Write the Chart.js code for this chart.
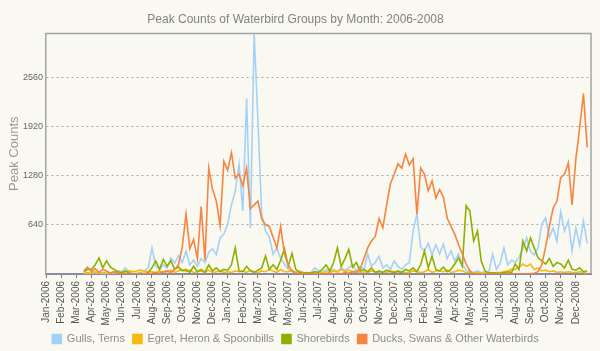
<!DOCTYPE html>
<html>
<head>
<meta charset="utf-8">
<script src="https://cdn.jsdelivr.net/npm/chart.js@4.4.1/dist/chart.umd.min.js"></script>
<style>
  html, body { margin: 0; padding: 0; background: #f9f8f1; }
  #wrap { width: 600px; height: 351px; }
</style>
</head>
<body>
<div id="wrap"><canvas id="chart" width="600" height="351"></canvas></div>
<script>
// month tick labels
const months = [
  'Jan-2006','Feb-2006','Mar-2006','Apr-2006','May-2006','Jun-2006','Jul-2006','Aug-2006','Sep-2006','Oct-2006','Nov-2006','Dec-2006',
  'Jan-2007','Feb-2007','Mar-2007','Apr-2007','May-2007','Jun-2007','Jul-2007','Aug-2007','Sep-2007','Oct-2007','Nov-2007','Dec-2007',
  'Jan-2008','Feb-2008','Mar-2008','Apr-2008','May-2008','Jun-2008','Jul-2008','Aug-2008','Sep-2008','Oct-2008','Nov-2008','Dec-2008'
];
const yTicks = [640, 1280, 1920, 2560];

// four readings per month (one group per month)
const gulls = [
  null,null,null,null, null,null,null,null, null,null,20,10, 10,20,5,10,
  5,20,10,40, 30,80,20,10, 10,20,40,80, 340,100,60,120,
  80,210,140,240, 150,300,120,180, 100,200,150,280, 330,250,470,520,
  650,900,1080,1430, 820,2285,600,3130, 2000,780,560,480, 260,340,200,130,
  60,30,20,40, 20,10,20,80, 40,20,60,30, 60,30,80,50,
  80,120,40,100, 60,260,100,150, 230,80,120,60, 170,100,60,120,
  150,560,780,350, 300,400,250,380, 260,390,200,300, 170,260,120,50,
  30,20,40,20, 30,20,260,60, 140,340,120,180, 150,220,330,470,
  300,250,340,650, 730,480,600,430, 810,560,690,300, 600,370,690,400
];
const egrets = [
  null,null,null,null, null,null,null,null, null,null,10,20, 10,30,10,20,
  20,10,30,10, 20,30,40,30, 40,50,40,30, 30,20,40,20,
  30,50,20,40, 60,30,50,20, 30,40,20,50, 20,30,40,20,
  30,20,40,30, 40,20,50,30, 20,40,30,60, 40,20,60,30,
  30,50,20,30, 20,10,20,10, 10,20,30,20, 40,30,60,30,
  50,30,40,20, 30,20,40,30, 20,30,20,40, 30,20,30,20,
  20,40,30,20, 30,60,20,40, 40,30,50,20, 30,50,40,20,
  20,10,20,10, 10,20,10,20, 20,30,40,60, 60,90,130,100,
  130,60,80,40, 50,30,40,20, 30,20,30,20, 20,30,20,10
];
const shorebirds = [
  null,null,null,null, null,null,null,null, null,null,30,60, 60,120,210,80,
  170,90,60,30, 20,40,10,0, 0,10,0,20, 80,170,60,190,
  100,170,60,90, 40,60,20,100, 30,60,20,120, 40,80,30,60,
  50,120,340,40, 30,100,40,20, 50,80,235,60, 120,60,180,330,
  100,270,60,20, 10,20,10,30, 20,60,120,40, 150,340,100,200,
  320,90,150,40, 60,30,80,20, 40,20,50,30, 20,40,20,60,
  40,80,30,120, 300,80,230,60, 40,90,30,60, 130,210,100,890,
  820,430,560,170, 40,10,20,10, 10,20,30,20, 130,60,430,300,
  470,340,210,170, 130,200,100,150, 130,80,180,60, 50,80,30,40
];
const ducks = [
  null,null,null,null, null,null,null,null, null,null,40,90, 30,70,20,60,
  40,10,30,10, 0,10,0,0, 0,0,10,0, 10,20,10,30,
  40,20,60,120, 350,780,330,450, 200,880,180,1380, 1100,950,630,1470,
  1350,1580,1250,1300, 1150,1380,850,900, 950,720,640,620, 480,340,620,260,
  120,40,10,0, 0,0,5,0, 0,0,0,10, 0,10,0,20,
  10,30,20,60, 200,340,430,490, 720,600,900,1175, 1300,1435,1380,1560,
  1420,1500,780,1380, 1300,1085,1215,990, 1100,1000,730,620, 520,380,260,130,
  40,5,0,0, 0,0,0,0, 0,0,0,0, 0,0,5,0,
  5,10,30,120, 350,620,860,950, 1255,1300,1450,900, 1500,1900,2350,1650
];

function toPoints(arr){
  return arr.map((v, i) => ({ x: i / 4, y: v }));
}

// frame on top and right of the plot
const framePlugin = {
  id: 'frame',
  beforeDatasetsDraw(chart){
    const a = chart.chartArea, c = chart.ctx;
    c.save();
    c.strokeStyle = '#a4a4a4';
    c.lineWidth = 1.5;
    c.beginPath();
    c.moveTo(a.left, a.top);
    c.lineTo(a.right, a.top);
    c.lineTo(a.right, a.bottom);
    c.stroke();
    c.restore();
  }
};

Chart.defaults.font.family = "'Liberation Sans', Arial, sans-serif";

new Chart(document.getElementById('chart'), {
  type: 'line',
  data: {
    datasets: [
      { label: 'Gulls, Terns', data: toPoints(gulls), borderColor: '#a5d1f6', backgroundColor: '#a5d1f6', order: 3 },
      { label: 'Egret, Heron & Spoonbills', data: toPoints(egrets), borderColor: '#f8b90a', backgroundColor: '#f8b90a', order: 2 },
      { label: 'Shorebirds', data: toPoints(shorebirds), borderColor: '#8db000', backgroundColor: '#8db000', order: 1 },
      { label: 'Ducks, Swans & Other Waterbirds', data: toPoints(ducks), borderColor: '#f7843f', backgroundColor: '#f7843f', order: 0 }
    ]
  },
  options: {
    responsive: false,
    animation: false,
    layout: { padding: { left: 0, right: 9, top: 0, bottom: 0 } },
    elements: {
      point: { radius: 0 },
      line: { borderWidth: 1.6, tension: 0 }
    },
    plugins: {
      title: {
        display: true,
        text: 'Peak Counts of Waterbird Groups by Month: 2006-2008',
        color: '#828282',
        font: { size: 12, weight: 'normal' },
        padding: { top: 12, bottom: 7 }
      },
      legend: {
        position: 'bottom',
        maxHeight: 25.5,
        labels: {
          boxWidth: 9, boxHeight: 9, padding: 8,
          color: '#8c8c8c',
          font: { size: 11 },
          sort: (a, b) => a.datasetIndex - b.datasetIndex
        }
      },
      tooltip: { enabled: false }
    },
    scales: {
      x: {
        type: 'linear',
        min: 0, max: 36,
        afterBuildTicks: s => { s.ticks = months.map((m, i) => ({ value: i })); },
        afterFit: s => { s.height = 51.5; },
        ticks: {
          callback: v => months[v],
          minRotation: 90, maxRotation: 90,
          autoSkip: false,
          color: '#555',
          font: { size: 10 },
          padding: 3
        },
        grid: { drawOnChartArea: false, drawTicks: true, tickLength: 4, color: '#777' },
        border: { color: '#8b8aa6', width: 2 }
      },
      y: {
        min: 0, max: 3135,
        afterBuildTicks: s => { s.ticks = yTicks.map(v => ({ value: v })); },
        afterFit: s => { s.width = 46; },
        ticks: { color: '#666', font: { size: 9 }, padding: 3, callback: v => String(v) },
        grid: { color: '#a8a8a8', lineWidth: 1, drawTicks: false },
        border: { color: '#a4a4a4', width: 1.5, dash: [2, 3] },
        title: {
          display: true,
          text: 'Peak Counts',
          color: '#9a9a9a',
          font: { size: 13 },
          padding: { top: 7, bottom: 0 }
        }
      }
    }
  },
  plugins: [framePlugin]
});
</script>
</body>
</html>
